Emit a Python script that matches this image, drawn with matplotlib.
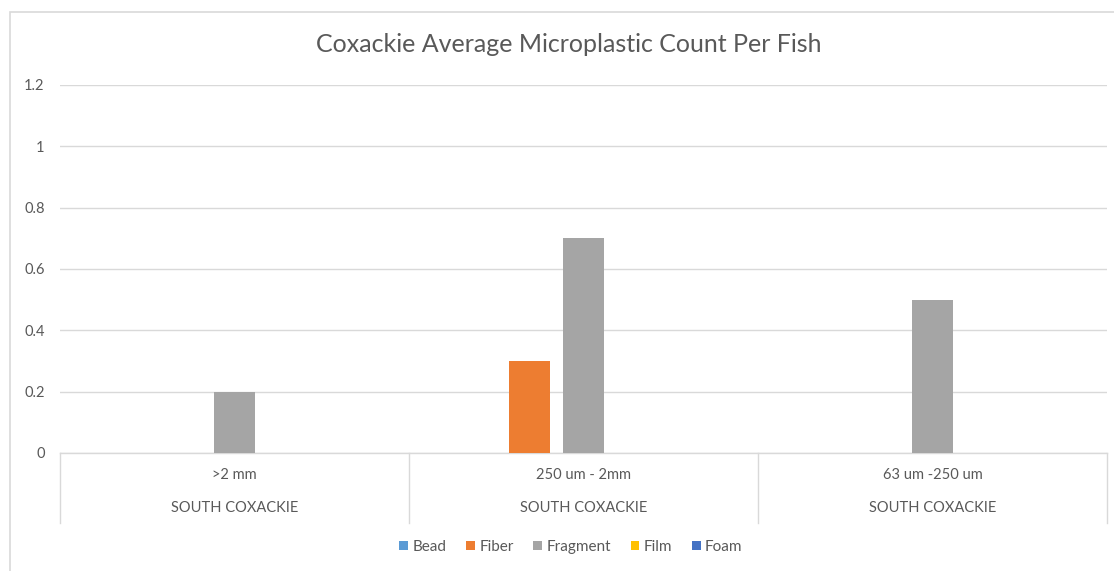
#!/usr/bin/python
# -*- encoding: utf-8 -*-
'''
Coxackie microplastic counts per fish, clustered by size class.
'''

import numpy as np
import matplotlib
matplotlib.use('Agg')
import matplotlib.pyplot as plt
from matplotlib.patches import Rectangle, Patch
from matplotlib.transforms import blended_transform_factory

#* Data
size_classes = ['>2 mm', '250 um - 2mm', '63 um -250 um']
site = 'SOUTH COXACKIE'
series_names = ['Bead', 'Fiber', 'Fragment', 'Film', 'Foam']
bead = [0, 0, 0]
fiber = [0, 0.3, 0]
fragment = [0.2, 0.7, 0.5]
film = [0, 0, 0]
foam = [0, 0, 0]

#* Style
colours = ['#5B9BD5', '#ED7D31', '#A5A5A5', '#FFC000', '#4472C4']
TEXT = '#595959'
GRID = '#D9D9D9'
plt.rcParams['font.family'] = ['Lato', 'DejaVu Sans']

W, H = 1114, 571
fig = plt.figure(figsize=(W / 100, H / 100), dpi=100)

# chart border (runs off the right and bottom)
fig.add_artist(Rectangle((10 / W, -0.2), 1.2, 1.2 - 12 / H,
                         transform=fig.transFigure, fill=False,
                         edgecolor=GRID, linewidth=1.2))

ax = fig.add_axes([60 / W, 1 - 453 / H, (1107 - 60) / W, (453 - 85) / H])

values = [bead, fiber, fragment, film, foam]
x = np.arange(len(size_classes))
step = 0.1547
width = 0.1175
for j, (vals, col) in enumerate(zip(values, colours)):
    ax.bar(x + (j - 2) * step, vals, width=width, color=col,
           linewidth=0, zorder=3)

ax.set_xlim(-0.5, 2.5)
ax.set_ylim(0, 1.2)
ax.set_yticks(np.arange(0, 1.21, 0.2))
ax.set_yticklabels(['0', '0.2', '0.4', '0.6', '0.8', '1', '1.2'])
ax.tick_params(axis='y', length=0, pad=11, labelsize=10.5, labelcolor=TEXT)
ax.tick_params(axis='x', length=0, labelbottom=False)
ax.grid(axis='y', color=GRID, linewidth=1.0, zorder=0)
for s in ['top', 'right', 'left']:
    ax.spines[s].set_visible(False)
ax.spines['bottom'].set_color(GRID)
ax.spines['bottom'].set_linewidth(1.0)

# category table below the axis
trans = blended_transform_factory(ax.transData, ax.transAxes)
box_bottom = -(523 - 453) / (453 - 85)
for b in np.arange(-0.5, len(size_classes), 1.0):
    ax.plot([b, b], [0, box_bottom], transform=trans, color=GRID,
            linewidth=1.0, clip_on=False)
for i, lab in enumerate(size_classes):
    ax.text(i, -(475 - 453) / (453 - 85), lab, transform=trans,
            ha='center', va='center', fontsize=10.5, color=TEXT)
    ax.text(i, -(508 - 453) / (453 - 85), site, transform=trans,
            ha='center', va='center', fontsize=10.5, color=TEXT)

fig.text(569 / W, 1 - 45 / H, 'Coxackie Average Microplastic Count Per Fish',
         ha='center', va='center', fontsize=18, color=TEXT)

handles = [Patch(facecolor=c, edgecolor='none') for c in colours]
fig.legend(handles, series_names, loc='center', bbox_to_anchor=(571 / W, 1 - 547 / H),
           ncol=5, frameon=False, fontsize=11, labelcolor=TEXT,
           handlelength=0.55, handleheight=0.55, handletextpad=0.3,
           columnspacing=1.3)

fig.savefig('out.png', dpi=100)
